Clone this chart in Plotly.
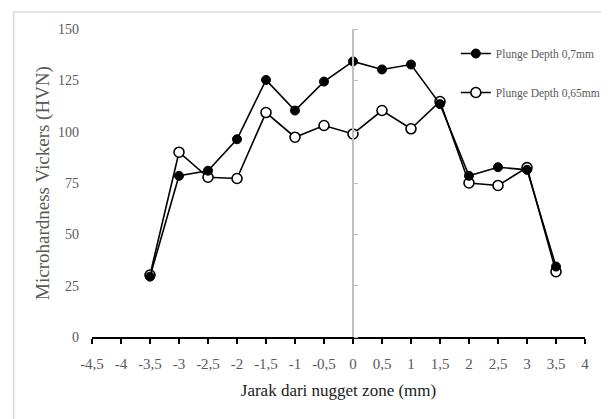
import plotly.graph_objects as go

# ---- data ----
x_pos = [-3.5, -3, -2.5, -2, -1.5, -1, -0.5, 0, 0.5, 1, 1.5, 2, 2.5, 3, 3.5]
hv_07 = [29.4, 78.5, 81.0, 96.3, 125.2, 110.3, 124.4, 134.2, 130.3, 132.7, 113.4, 78.5, 82.7, 81.4, 34.3]
hv_065 = [30.2, 90.0, 77.8, 77.2, 109.3, 97.3, 103.0, 98.9, 110.3, 101.4, 114.7, 75.0, 73.8, 82.5, 31.8]

x_tickvals = [-4.5, -4, -3.5, -3, -2.5, -2, -1.5, -1, -0.5, 0, 0.5, 1, 1.5, 2, 2.5, 3, 3.5, 4]
x_ticktext = ["-4,5", "-4", "-3,5", "-3", "-2,5", "-2", "-1,5", "-1", "-0,5", "0",
              "0,5", "1", "1,5", "2", "2,5", "3", "3,5", "4"]
y_tickvals = [0, 25, 50, 75, 100, 125, 150]
y_ticktext = ["0", "25", "50", "75", "100", "125", "150"]

name_07 = "Plunge Depth 0,7mm"
name_065 = "Plunge Depth 0,65mm"

FONT = "Liberation Serif"
GRAY = "#595959"

fig = go.Figure()

fig.add_trace(go.Scatter(
    x=x_pos, y=hv_065, name=name_065, mode="lines+markers",
    line=dict(color="black", width=1.6),
    marker=dict(symbol="circle", size=10, color="white",
                line=dict(color="black", width=1.6)),
    legendgroup="b", legendrank=2,
))
fig.add_trace(go.Scatter(
    x=x_pos, y=hv_07, name=name_07, mode="lines+markers",
    line=dict(color="black", width=1.6),
    marker=dict(symbol="circle", size=9, color="black",
                line=dict(color="black", width=1)),
    legendgroup="a", legendrank=1,
))
# empty trace carrying the central vertical axis
fig.add_trace(go.Scatter(x=[None], y=[None], yaxis="y2", showlegend=False,
                         hoverinfo="skip"))

x_min, x_max = x_tickvals[0], x_tickvals[-1]

fig.update_layout(
    width=609, height=419,
    margin=dict(l=84, r=32, t=21, b=90),
    paper_bgcolor="white", plot_bgcolor="white",
    font=dict(family=FONT, color=GRAY),
    xaxis=dict(
        range=[x_min, x_max], tickvals=x_tickvals, ticktext=x_ticktext,
        showgrid=False, zeroline=False,
        showline=True, linecolor="black", linewidth=2,
        ticks="outside", ticklen=5, tickwidth=1.5, tickcolor="black",
        ticklabelstandoff=7,
        tickfont=dict(family=FONT, size=15, color=GRAY),
        title=dict(text="Jarak dari nugget zone (mm)",
                   font=dict(family=FONT, size=17, color="#1a1a1a"), standoff=13),
    ),
    yaxis=dict(
        range=[0, 150], tickvals=y_tickvals, ticktext=y_ticktext,
        showgrid=False, zeroline=False, showline=False,
        ticks="", ticklabelstandoff=12,
        tickfont=dict(family=FONT, size=14, color=GRAY),
        title=dict(text="Microhardness Vickers (HVN)",
                   font=dict(family=FONT, size=19, color=GRAY), standoff=3),
    ),
    yaxis2=dict(
        range=[0, 150], tickvals=y_tickvals, overlaying="y", anchor="free",
        position=(0 - x_min) / (x_max - x_min), side="right",
        showgrid=False, zeroline=False, showline=True,
        linecolor="#bfbfbf", linewidth=1.5,
        ticks="outside", ticklen=4, tickwidth=1.2, tickcolor="#bfbfbf",
        showticklabels=False,
    ),
    legend=dict(
        x=0.738, y=0.9675, xanchor="left", yanchor="top",
        bgcolor="rgba(0,0,0,0)", tracegroupgap=20, traceorder="grouped",
        font=dict(family=FONT, size=11.5, color=GRAY),
    ),
    showlegend=True,
    shapes=[dict(type="rect", xref="paper", yref="paper",
                 x0=-0.159, x1=1.0446, y0=-0.4, y1=1.055,
                 line=dict(color="#d9d9d9", width=1.5), layer="below")],
)

fig.write_html("out.html")
